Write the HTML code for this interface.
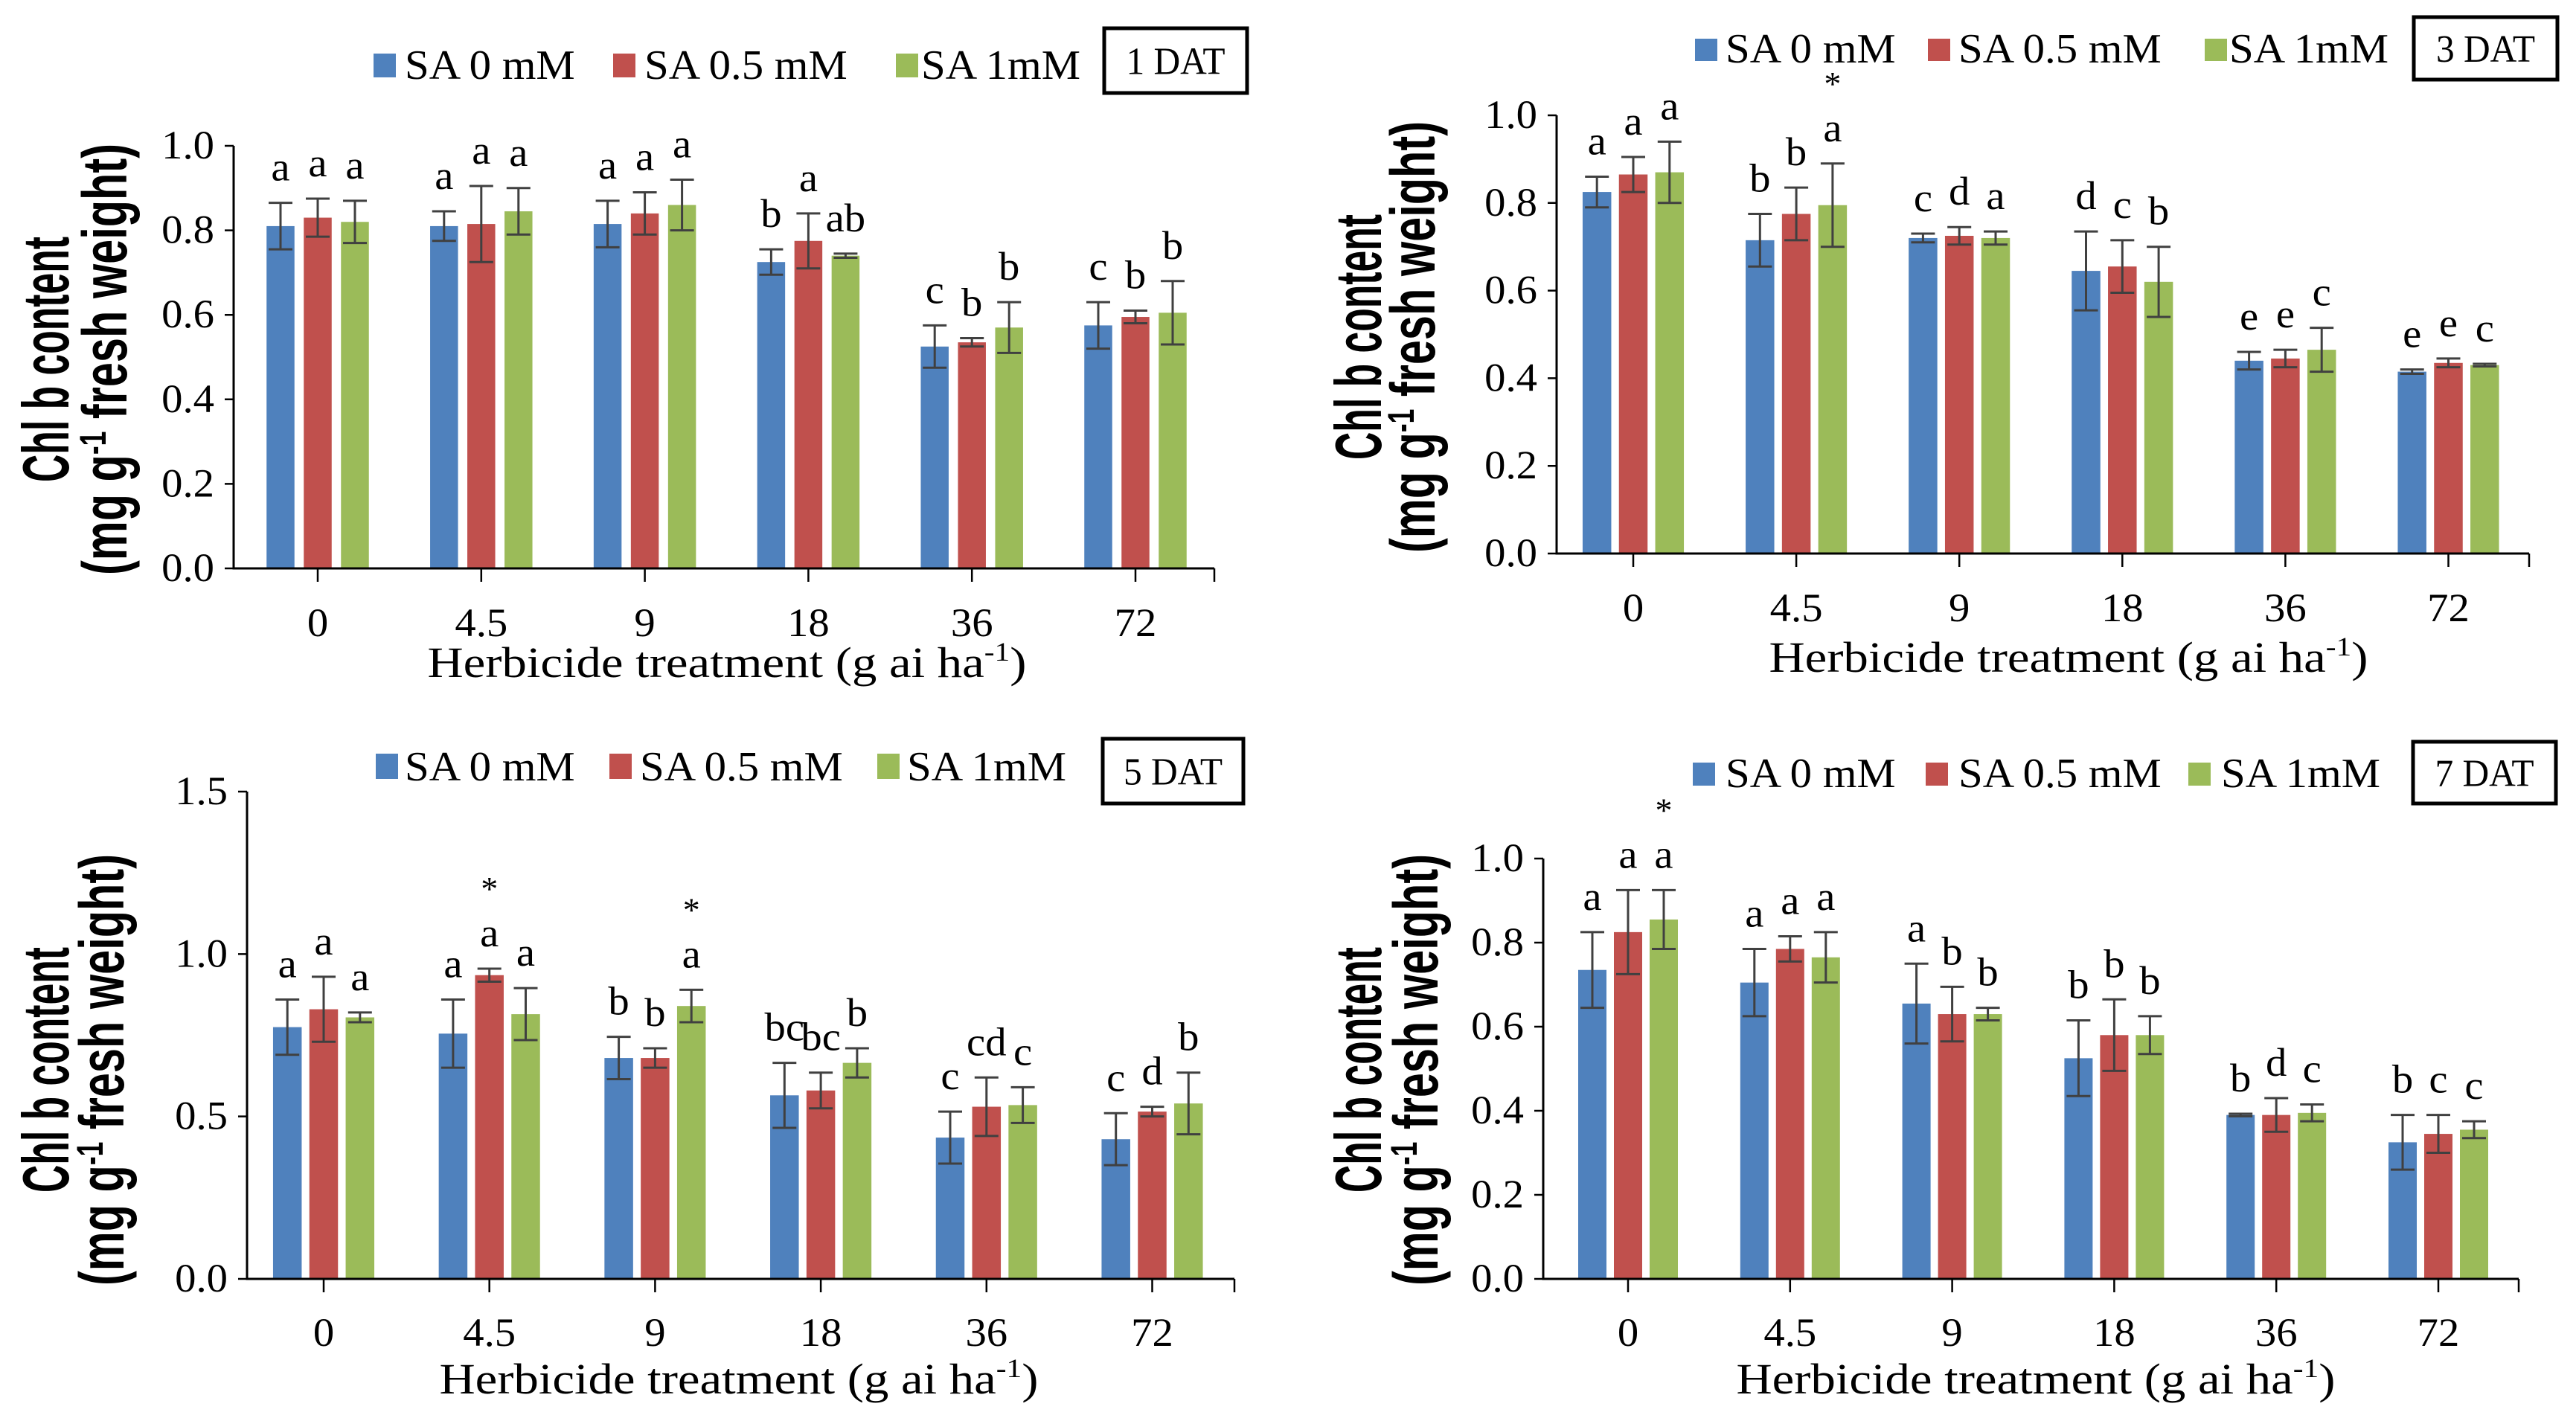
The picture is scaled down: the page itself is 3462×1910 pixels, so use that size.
<!DOCTYPE html>
<html><head><meta charset="utf-8">
<style>
html,body{margin:0;padding:0;background:#fff;}
svg{display:block;}
text{font-family:"Liberation Serif",serif;fill:#000;}
</style></head>
<body>
<svg id="chart" width="3462" height="1910" viewBox="0 0 3462 1910" xmlns="http://www.w3.org/2000/svg"></svg>
<script>
// ---- data ----
const categories = ["0","4.5","9","18","36","72"];
const seriesNames = ["SA 0 mM","SA 0.5 mM","SA 1mM"];
const p1Blue = [0.81,0.81,0.815,0.725,0.525,0.575];
const p1BlueErr = [0.055,0.035,0.055,0.03,0.05,0.055];
const p1Red = [0.83,0.815,0.84,0.775,0.535,0.595];
const p1RedErr = [0.045,0.09,0.05,0.065,0.01,0.015];
const p1Green = [0.82,0.845,0.86,0.74,0.57,0.605];
const p1GreenErr = [0.05,0.055,0.06,0.005,0.06,0.075];
const p1Letters = [["a","a","a","b","c","c"],["a","a","a","a","b","b"],["a","a","a","ab","b","b"]];
const p2Blue = [0.825,0.715,0.72,0.645,0.44,0.415];
const p2BlueErr = [0.035,0.06,0.01,0.09,0.02,0.005];
const p2Red = [0.865,0.775,0.725,0.655,0.445,0.435];
const p2RedErr = [0.04,0.06,0.02,0.06,0.02,0.01];
const p2Green = [0.87,0.795,0.72,0.62,0.465,0.43];
const p2GreenErr = [0.07,0.095,0.015,0.08,0.05,0.003];
const p2Letters = [["a","b","c","d","e","e"],["a","b","d","c","e","e"],["a","a","a","b","c","c"]];
const p3Blue = [0.775,0.755,0.68,0.565,0.435,0.43];
const p3BlueErr = [0.085,0.105,0.065,0.1,0.08,0.08];
const p3Red = [0.83,0.935,0.68,0.58,0.53,0.515];
const p3RedErr = [0.1,0.02,0.03,0.055,0.09,0.015];
const p3Green = [0.805,0.815,0.84,0.665,0.535,0.54];
const p3GreenErr = [0.015,0.08,0.05,0.045,0.055,0.095];
const p3Letters = [["a","a","b","bc","c","c"],["a","a","b","bc","cd","d"],["a","a","a","b","c","b"]];
const p4Blue = [0.735,0.705,0.655,0.525,0.39,0.325];
const p4BlueErr = [0.09,0.08,0.095,0.09,0.003,0.065];
const p4Red = [0.825,0.785,0.63,0.58,0.39,0.345];
const p4RedErr = [0.1,0.03,0.065,0.085,0.04,0.045];
const p4Green = [0.855,0.765,0.63,0.58,0.395,0.355];
const p4GreenErr = [0.07,0.06,0.015,0.045,0.02,0.02];
const p4Letters = [["a","a","a","b","b","b"],["a","a","b","b","d","c"],["a","a","b","b","c","c"]];
const ticks1 = ["0.0","0.2","0.4","0.6","0.8","1.0"];
const ticks3 = ["0.0","0.5","1.0","1.5"];
const panelTitles = ["1 DAT","3 DAT","5 DAT","7 DAT"];
// stars: [series index, category index]
const p2Stars = [[2,1]];
const p3Stars = [[1,1],[2,2]];
const p4Stars = [[2,0]];

const colors = ["#4F81BD","#C0504D","#9BBB59"];
const NS = "http://www.w3.org/2000/svg";
const svg = document.getElementById("chart");

function mk(tag, attrs, parent){
  const e = document.createElementNS(NS, tag);
  for (const k in attrs) e.setAttribute(k, attrs[k]);
  (parent||svg).appendChild(e);
  return e;
}
function txt(parent, x, y, s, size, anchor, sx){
  const t = mk("text", {transform:`translate(${x},${y}) scale(${sx||1.15},1)`, "font-size":size, "text-anchor":anchor||"start"}, parent);
  t.textContent = s;
  return t;
}

const panels = [
 {id:"1dat", ymax:1.0, ticks:ticks1, series:[p1Blue,p1Red,p1Green], errs:[p1BlueErr,p1RedErr,p1GreenErr], letters:p1Letters, stars:[],
  axisX:314, yTop:196, y0:764, right:1632, cat0:427, sp:219.8, bw:37.5, step:50,
  leg:{sq:[502,824,1204], tx:[544,866,1238], y:72, h:32, box:[1484,38,192,87]}, tickY:855, titleX:977, titleY:910, yt:[92,170,483]},
 {id:"3dat", ymax:1.0, ticks:ticks1, series:[p2Blue,p2Red,p2Green], errs:[p2BlueErr,p2RedErr,p2GreenErr], letters:p2Letters, stars:p2Stars,
  axisX:2092, yTop:155, y0:744, right:3399, cat0:2195, sp:219.1, bw:38.5, step:48.8,
  leg:{sq:[2278,2591,2963], tx:[2319,2632,2996], y:52, h:30, box:[3244,23,193,84]}, tickY:835, titleX:2780, titleY:903, yt:[1856,1928,453]},
 {id:"5dat", ymax:1.5, ticks:ticks3, series:[p3Blue,p3Red,p3Green], errs:[p3BlueErr,p3RedErr,p3GreenErr], letters:p3Letters, stars:p3Stars,
  axisX:332, yTop:1064, y0:1719, right:1659, cat0:435, sp:222.7, bw:38.5, step:48.8,
  leg:{sq:[505,819,1179], tx:[544,860,1219], y:1013, h:34, box:[1482,993,189,87]}, tickY:1809, titleX:993, titleY:1873, yt:[92,166,1438]},
 {id:"7dat", ymax:1.0, ticks:ticks1, series:[p4Blue,p4Red,p4Green], errs:[p4BlueErr,p4RedErr,p4GreenErr], letters:p4Letters, stars:p4Stars,
  axisX:2074, yTop:1154, y0:1719, right:3385, cat0:2188, sp:217.8, bw:38, step:48,
  leg:{sq:[2275,2588,2941], tx:[2319,2632,2985], y:1025, h:31, box:[3243,997,192,83]}, tickY:1809, titleX:2736, titleY:1873, yt:[1856,1932,1438]}
];

panels.forEach((p, pi) => {
  const g = mk("g", {});
  
  
  const yS = v => p.y0 - v / p.ymax * (p.y0 - p.yTop);
  const xS = (ci, si) => p.cat0 + ci * p.sp + (si - 1) * p.step;

  p.series.forEach((vals, si) => {
    vals.forEach((v, ci) => {
      const cx = xS(ci, si);
      const r = mk("rect", {x:cx - p.bw/2, y:yS(v), width:p.bw, height:p.y0 - yS(v), fill:colors[si]}, g);
      
      
      const e = p.errs[si][ci];
      const top = yS(v + e), bot = yS(v - e);
      const eb = mk("path", {d:`M${cx},${top}V${bot}M${cx-16},${top}H${cx+16}M${cx-16},${bot}H${cx+16}`, stroke:"#404040", "stroke-width":3, fill:"none"}, g);
      
      
      const lt = txt(g, cx, top - 30, p.letters[si][ci], 54, "middle", 1.05);
      
      
    });
  });
  p.stars.forEach(([si, ci]) => {
    const v = p.series[si][ci], e = p.errs[si][ci];
    const st = txt(g, xS(ci, si), yS(v + e) - 30 - 62, "*", 46, "middle", 1);
    
    
  });

  const ax = mk("path", {d:`M${p.axisX},${p.yTop}V${p.y0}H${p.right}`, stroke:"#000", "stroke-width":3, fill:"none"}, g);
  
  
  let tk = "";
  p.ticks.forEach(t => { const y = yS(parseFloat(t)); tk += `M${p.axisX-12},${y}H${p.axisX}`; });
  categories.forEach((c, ci) => { const x = p.cat0 + ci * p.sp; tk += `M${x},${p.y0}V${p.y0+18}`; });
  tk += `M${p.right},${p.y0}V${p.y0+18}`;
  const tkp = mk("path", {d:tk, stroke:"#000", "stroke-width":2.5, fill:"none"}, g);
  
  
  p.ticks.forEach(t => {
    const tl = txt(g, p.axisX - 26, yS(parseFloat(t)) + 17, t, 54, "end", 1.05);
    
    
  });
  categories.forEach((c, ci) => {
    const cl = txt(g, p.cat0 + ci * p.sp, p.tickY, c, 54, "middle", 1.05);
    
    
  });

  const xt = mk("text", {x:p.titleX, y:p.titleY, "font-size":58, "text-anchor":"middle"}, g);
  
  
  xt.innerHTML = 'Herbicide treatment (g ai ha<tspan dy="-22" font-size="36">-1</tspan><tspan dy="22">)</tspan>';
  xt.setAttribute("textLength", 805);
  xt.setAttribute("lengthAdjust", "spacingAndGlyphs");

  const yt1 = mk("text", {transform:`translate(${p.yt[0]},${p.yt[2]}) rotate(-90)`, "font-size":88, "font-weight":"bold", "text-anchor":"middle", textLength:330, lengthAdjust:"spacingAndGlyphs", style:"font-family:'Liberation Sans',sans-serif"}, g);
  yt1.textContent = "Chl b content";
  
  
  const yt2 = mk("text", {transform:`translate(${p.yt[1]},${p.yt[2]}) rotate(-90)`, "font-size":84, "font-weight":"bold", "text-anchor":"middle", textLength:580, lengthAdjust:"spacingAndGlyphs", style:"font-family:'Liberation Sans',sans-serif"}, g);
  yt2.innerHTML = '(mg g<tspan dy="-28" font-size="50">-1</tspan><tspan dy="28"> fresh weight)</tspan>';
  
  

  const L = p.leg;
  seriesNames.forEach((n, si) => {
    const sq = mk("rect", {x:L.sq[si], y:L.y, width:30, height:L.h, fill:colors[si]}, g);
    
    
    const lt = txt(g, L.tx[si], L.y + L.h + 2, n, 56, "start", 1.05);
    
    
  });
  const bx = mk("rect", {x:L.box[0], y:L.box[1], width:L.box[2], height:L.box[3], fill:"none", stroke:"#000", "stroke-width":5}, g);
  
  
  const bt = txt(g, L.box[0] + L.box[2]/2, L.box[1] + L.box[3]/2 + 18, panelTitles[pi], 52, "middle", 0.95);
  
  
});
</script>
</body></html>
